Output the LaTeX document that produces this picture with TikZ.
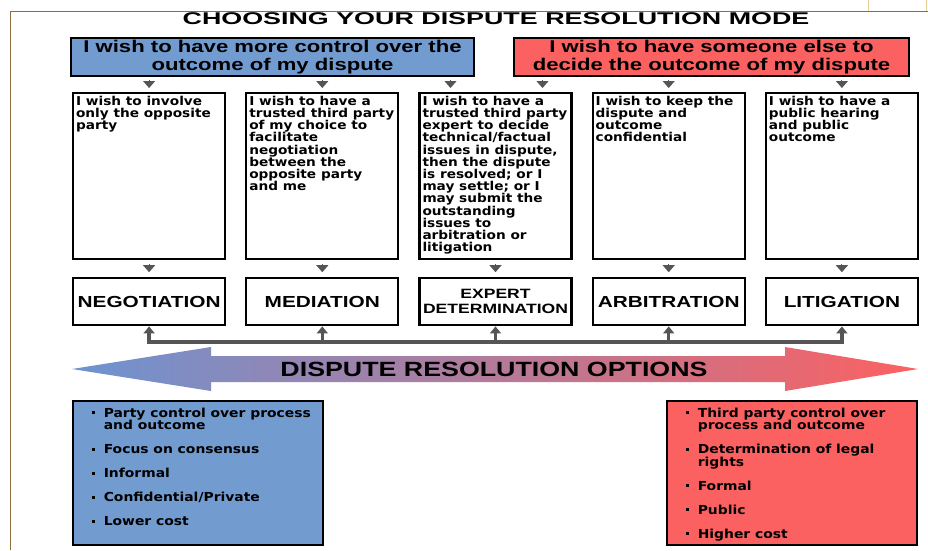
\documentclass[tikz,border=0pt]{standalone}
\usepackage{xcolor}
\usepackage{tikz}
\usetikzlibrary{shapes, arrows.meta, positioning}
\usepackage{fontspec}
\newfontfamily\titlefont{Liberation Sans}[FakeStretch=1.58]
\newfontfamily\headfont{Liberation Sans}[FakeStretch=1.3]
\newfontfamily\bodyfont{DejaVu Sans}[FakeStretch=1.12]
\definecolor{optblue}{RGB}{114,155,207}
\definecolor{optred}{RGB}{252,97,97}
\definecolor{tipgray}{RGB}{85,85,85}
\definecolor{frametan}{RGB}{140,110,60}
\definecolor{framelight}{RGB}{228,205,150}
\newcommand{\colfill}[1]{\parbox[t][160pt][t]{146pt}{\raggedright #1}}
\newcommand{\listfill}[1]{\parbox[t][130pt][t]{232pt}{\raggedright #1}}
\newcommand{\blt}{\hspace*{10pt}\makebox[12pt][l]{\rule[2.8pt]{3pt}{3pt}}}
\newcommand{\bgap}{\hspace*{22pt}}

\begin{document}
\begin{tikzpicture}[x=1pt, y=-1pt,
            wish/.style={draw, line width=2pt, anchor=north west, minimum height=38pt, align=center, inner sep=0pt, font=\headfont\bfseries\fontsize{17}{17.5}\selectfont},
            colbox/.style={draw, line width=2.2pt, anchor=north west, minimum width=152pt, minimum height=166pt, inner xsep=3pt, inner ysep=2.6pt, font=\bodyfont\bfseries\fontsize{12.2}{12.2}\selectfont},
            mode/.style={draw, line width=2.2pt, fill=white, minimum width=152pt, minimum height=47pt, align=center, inner sep=0pt, font=\headfont\bfseries\fontsize{16}{18}\selectfont},
            plist/.style={draw, line width=1.6pt, anchor=north west, inner xsep=9pt, inner ysep=7pt, font=\bodyfont\bfseries\fontsize{12.4}{12.4}\selectfont},
            drop/.style={draw=tipgray, line width=1pt, -{Triangle[width=12pt,length=7pt]}, shorten <=3pt, shorten >=4pt},
            feed/.style={draw=tipgray, line width=3.5pt, line join=miter}
        ]
            \useasboundingbox (0,0) rectangle (928,550);
            \draw[frametan, line width=1pt] (10,550) -- (10,11) -- (928,11);
            \draw[framelight, line width=1pt] (868,0) -- (868,11) (926,0) -- (926,11);

            \node[font=\titlefont\bfseries\fontsize{17}{20}\selectfont] (title) at (496,19) {CHOOSING YOUR DISPUTE RESOLUTION MODE};

            \node[wish, minimum width=403pt, fill=optblue] (ctrl) at (70,37) {I wish to have more control over the\\outcome of my dispute};
            \node[wish, minimum width=395pt, fill=optred] (other) at (513,37) {I wish to have someone else to\\decide the outcome of my dispute};

            \node[colbox] (negq) at (72,92) {\colfill{I wish to involve\\only the opposite\\party}};
            \node[colbox, right=19pt of negq] (medq) {\colfill{I wish to have a\\trusted third party\\of my choice to\\facilitate\\negotiation\\between the\\opposite party\\and me}};
            \node[colbox, right=19pt of medq] (expq) {\colfill{I wish to have a\\trusted third party\\expert to decide\\technical/factual\\issues in dispute,\\then the dispute\\is resolved; or I\\may settle; or I\\may submit the\\outstanding\\issues to\\arbitration or\\litigation}};
            \node[colbox, right=19pt of expq] (arbq) {\colfill{I wish to keep the\\dispute and\\outcome\\confidential}};
            \node[colbox, right=19pt of arbq] (litq) {\colfill{I wish to have a\\public hearing\\and public\\outcome}};

            \node[mode, below=17pt of negq] (negm) {NEGOTIATION};
            \node[mode, below=17pt of medq] (medm) {MEDIATION};
            \node[mode, below=17pt of expq, font=\headfont\bfseries\fontsize{13.5}{15}\selectfont] (expm) {EXPERT\\DETERMINATION};
            \node[mode, below=17pt of arbq] (arbm) {ARBITRATION};
            \node[mode, below=17pt of litq] (litm) {LITIGATION};

            \coordinate (expL) at ([xshift=-45pt]expq.north);
            \coordinate (expR) at ([xshift=47pt]expq.north);
            \draw[drop] (negq.north |- ctrl.south) -- (negq.north);
            \draw[drop] (medq.north |- ctrl.south) -- (medq.north);
            \draw[drop] (expL |- ctrl.south) -- (expL);
            \draw[drop] (expR |- other.south) -- (expR);
            \draw[drop] (arbq.north |- other.south) -- (arbq.north);
            \draw[drop] (litq.north |- other.south) -- (litq.north);

            \draw[drop, shorten <=4pt, shorten >=5pt] (negq.south) -- (negm.north);
            \draw[drop, shorten <=4pt, shorten >=5pt] (medq.south) -- (medm.north);
            \draw[drop, shorten <=4pt, shorten >=5pt] (expq.south) -- (expm.north);
            \draw[drop, shorten <=4pt, shorten >=5pt] (arbq.south) -- (arbm.north);
            \draw[drop, shorten <=4pt, shorten >=5pt] (litq.south) -- (litm.north);

            \coordinate (bus) at (0,342);
            \draw[feed, {Triangle[width=11pt,length=7pt]}-{Triangle[width=11pt,length=7pt]}] (negm.south) -- (negm.south |- bus) -- (litm.south |- bus) -- (litm.south);
            \draw[feed, -{Triangle[width=11pt,length=7pt]}] (medm.south |- bus) -- (medm.south);
            \draw[feed, -{Triangle[width=11pt,length=7pt]}] (expm.south |- bus) -- (expm.south);
            \draw[feed, -{Triangle[width=11pt,length=7pt]}] (arbm.south |- bus) -- (arbm.south);

            \shade[left color=optblue!95!blue, right color=optred] (72,369) -- (211,347) -- (211,356) -- (785,356) -- (785,347) -- (918,369) -- (785,391) -- (785,382) -- (211,382) -- (211,391) -- cycle;
            \node[font=\headfont\bfseries\fontsize{20.6}{24}\selectfont] (opts) at (494,369) {DISPUTE RESOLUTION OPTIONS};

            \node[plist, fill=optblue] (pros) at (72,400) {\listfill{\blt Party control over process\\\bgap and outcome\\[11.6pt]\blt Focus on consensus\\[11.6pt]\blt Informal\\[11.6pt]\blt Confidential/Private\\[11.6pt]\blt Lower cost}};
            \node[plist, fill=optred] (cons) at (666,400) {\listfill{\blt Third party control over\\\bgap process and outcome\\[11.6pt]\blt Determination of legal\\\bgap rights\\[11.6pt]\blt Formal\\[11.6pt]\blt Public\\[11.6pt]\blt Higher cost}};
        \end{tikzpicture}
\end{document}
